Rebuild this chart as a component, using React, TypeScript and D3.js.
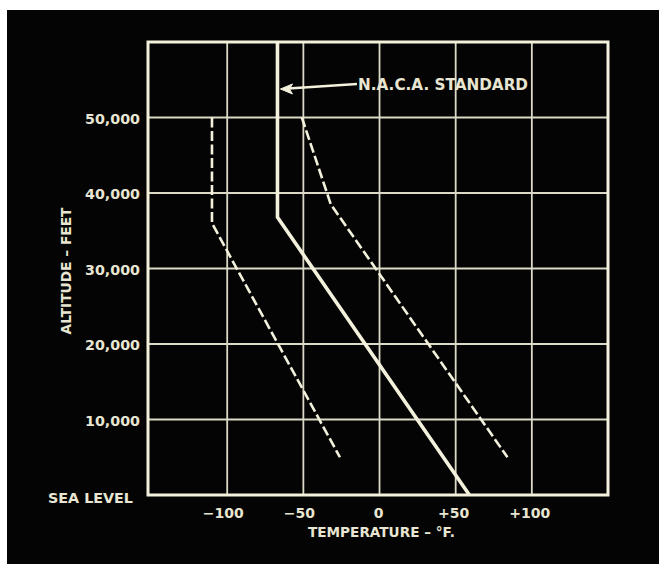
import React, { useEffect } from "react";
import * as d3 from "d3";

const tempTicks = [-100, -50, 0, 50, 100];
const tempTickLabels = ["\u2212100", "\u221250", "0", "+50", "+100"];
const altTicks = [10000, 20000, 30000, 40000, 50000];
const altTickLabels = ["10,000", "20,000", "30,000", "40,000", "50,000"];
const seaLevelLabel = "SEA LEVEL";

// N.A.C.A. standard atmosphere (temperature °F, altitude ft)
const nacaTemp = [-67, -67, 59];
const nacaAlt = [60000, 36800, 0];
// cold extreme (dashed)
const coldTemp = [-110, -110, -26];
const coldAlt = [50000, 36000, 5000];
// hot extreme (dashed)
const hotTemp = [-51, -32, 84];
const hotAlt = [50000, 38500, 5000];

const W = 659;
const H = 564;
const LINE = "#f3f1dc";
const GRID = "#dcdac6";
const TEXT = "#e8e6d2";
const FONT = "'DejaVu Sans', Verdana, sans-serif";

export default function App() {
  useEffect(() => {
    document.body.style.margin = "0";
    document.body.style.background = "#ffffff";
  }, []);

  const x = d3.scaleLinear().domain([-152, 150]).range([148, 608]);
  const y = d3.scaleLinear().domain([0, 60000]).range([495, 42]);

  const line = d3
    .line<[number, number]>()
    .x((d) => x(d[0]))
    .y((d) => y(d[1]));

  const zip = (t: number[], a: number[]) => t.map((v, i) => [v, a[i]] as [number, number]);

  const [x0, x1] = x.range();
  const [y0, y1] = y.range();

  // arrow from label to NACA line
  const tipX = x(nacaTemp[0]) + 3;
  const tipY = 89;
  const tailX = 357;
  const tailY = 84;

  return (
    <svg width={W} height={H} style={{ display: "block" }}>
      <rect x={0} y={0} width={W} height={H} fill="#ffffff" />
      <rect x={7} y={10} width={W - 7} height={H - 10} fill="#040404" />

      {/* grid */}
      {tempTicks.map((t) => (
        <line key={"vx" + t} x1={x(t)} x2={x(t)} y1={y1} y2={y0} stroke={GRID} strokeWidth={1.8} />
      ))}
      {altTicks.map((a) => (
        <line key={"hy" + a} x1={x0} x2={x1} y1={y(a)} y2={y(a)} stroke={GRID} strokeWidth={1.8} />
      ))}

      {/* frame */}
      <rect x={x0} y={y1} width={x1 - x0} height={y0 - y1} fill="none" stroke={LINE} strokeWidth={3} />

      {/* curves */}
      <path d={line(zip(coldTemp, coldAlt)) || ""} fill="none" stroke={LINE} strokeWidth={2.6} strokeDasharray="10,3.5" />
      <path d={line(zip(hotTemp, hotAlt)) || ""} fill="none" stroke={LINE} strokeWidth={2.6} strokeDasharray="10,3.5" />
      <path d={line(zip(nacaTemp, nacaAlt)) || ""} fill="none" stroke={LINE} strokeWidth={3.6} strokeLinejoin="miter" />

      {/* annotation arrow */}
      <line x1={tailX} y1={tailY} x2={tipX + 4} y2={tipY - 0.3} stroke={LINE} strokeWidth={2.4} />
      <path
        d={`M${tipX},${tipY} L${tipX + 12},${tipY - 5} L${tipX + 9},${tipY} L${tipX + 12},${tipY + 5} Z`}
        fill={LINE}
        stroke={LINE}
        strokeWidth={1}
        strokeLinejoin="round"
      />
      <text x={358} y={90} fill={TEXT} fontFamily={FONT} fontWeight="bold" fontSize={15} textLength={170} lengthAdjust="spacingAndGlyphs">
        N.A.C.A. STANDARD
      </text>

      {/* y tick labels */}
      {altTicks.map((a, i) => (
        <text
          key={"yl" + a}
          x={140}
          y={y(a) + 6}
          textAnchor="end"
          fill={TEXT}
          fontFamily={FONT}
          fontWeight="bold"
          fontSize={14}
          textLength={55}
          lengthAdjust="spacingAndGlyphs"
        >
          {altTickLabels[i]}
        </text>
      ))}
      <text x={48} y={y(0) + 8} fill={TEXT} fontFamily={FONT} fontWeight="bold" fontSize={14} textLength={85} lengthAdjust="spacingAndGlyphs">
        {seaLevelLabel}
      </text>

      {/* x tick labels */}
      {tempTicks.map((t, i) => (
        <text
          key={"xl" + t}
          x={x(t) - (t === 0 ? 1 : t > 0 ? 2 : 4)}
          y={518}
          textAnchor="middle"
          fill={TEXT}
          fontFamily={FONT}
          fontWeight="bold"
          fontSize={14}
        >
          {tempTickLabels[i]}
        </text>
      ))}

      {/* axis titles */}
      <text x={308} y={537} fill={TEXT} fontFamily={FONT} fontWeight="bold" fontSize={14} textLength={147} lengthAdjust="spacingAndGlyphs">
        TEMPERATURE – °F.
      </text>
      <text
        transform="translate(71,271) rotate(-90)"
        textAnchor="middle"
        fill={TEXT}
        fontFamily={FONT}
        fontWeight="bold"
        fontSize={14}
        textLength={127}
        lengthAdjust="spacingAndGlyphs"
      >
        ALTITUDE – FEET
      </text>
    </svg>
  );
}
